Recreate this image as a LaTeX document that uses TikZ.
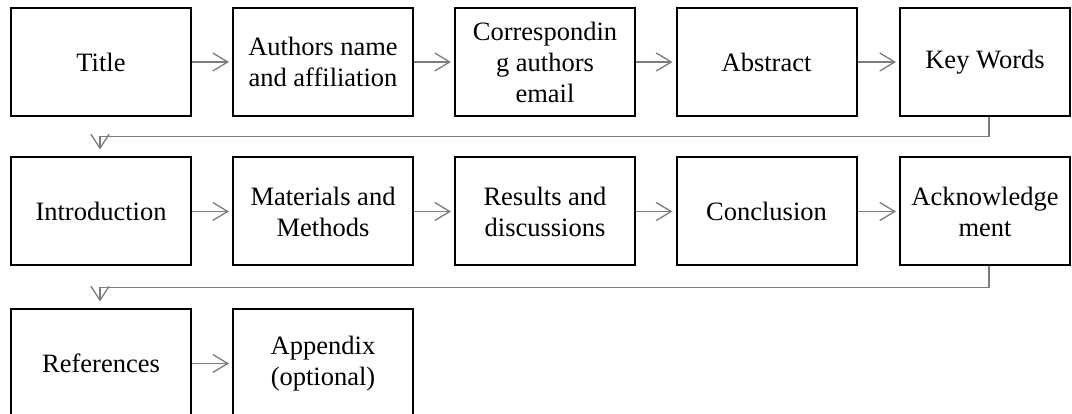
\documentclass[tikz,border=0pt]{standalone}
\usepackage{fontspec}
\setmainfont{Liberation Serif}
\usetikzlibrary{arrows.meta,calc}
\definecolor{conngray}{RGB}{125,125,125}
\begin{document}
\begin{tikzpicture}[x=1pt,y=-1pt,
  box/.style={draw=black,line width=2pt,minimum height=108pt,minimum width=180pt,
    align=center,inner sep=2pt,font=\fontsize{26.5}{31}\selectfont},
  lastbox/.style={box,minimum width=170pt},
  conn/.style={conngray,line width=1.3pt,shorten >=3pt,
    -{Straight Barb[length=15pt,width=18pt]}},
  down/.style={conngray,line width=1.3pt,shorten >=7pt,
    -{Straight Barb[length=14pt,width=18pt]}}]
\useasboundingbox (0,0) rectangle (1072,414);
\clip (0,0) rectangle (1072,414);
% row 1
\node[box] (title) at (101,62) {Title};
\node[box] (auth) at (323,62) {Authors name\\and affiliation};
\node[box] (corr) at (545,62) {Correspondin\\g authors\\email};
\node[box] (abs) at (766.5,62) {Abstract};
\node[lastbox] (kw) at (985,62) {Key Words};
% row 2
\node[box] (intro) at (101,211.5) {Introduction};
\node[box] (mm) at (323,211.5) {Materials and\\Methods};
\node[box] (res) at (545,211.5) {Results and\\discussions};
\node[box] (conc) at (766.5,211.5) {Conclusion};
\node[lastbox] (ack) at (985,211.5) {Acknowledge\\ment};
% row 3
\node[box] (ref) at (101,363.5) {References};
\node[box] (app) at (323,363.5) {Appendix\\(optional)};
% connectors
\draw[conn] (title) -- (auth);
\draw[conn] (auth) -- (corr);
\draw[conn] (corr) -- (abs);
\draw[conn] (abs) -- (kw);
\draw[conn] (intro) -- (mm);
\draw[conn] (mm) -- (res);
\draw[conn] (res) -- (conc);
\draw[conn] (conc) -- (ack);
\draw[conn] (ref) -- (app);
\coordinate (b1) at ($(intro.north)+(-1,-20)$);
\coordinate (b2) at ($(ref.north)+(-1,-21)$);
\draw[down] ($(kw.south)+(4,0)$) |- (b1) -- (b1 |- intro.north);
\draw[down] ($(ack.south)+(4,0)$) |- (b2) -- (b2 |- ref.north);
\end{tikzpicture}
\end{document}
